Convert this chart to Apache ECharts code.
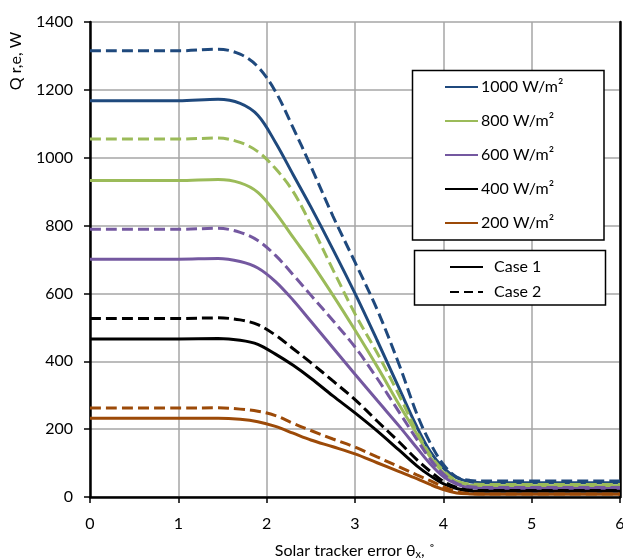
<!DOCTYPE html>
<html>
<head>
<meta charset="utf-8">
<script src="https://cdn.jsdelivr.net/npm/echarts@6/dist/echarts.min.js"></script>
<style>html,body{margin:0;padding:0;background:#fff}#c{width:623px;height:560px}</style>
</head>
<body>
<div id="c"></div>
<script>
const xs = [0, 1, 1.45, 1.7, 1.9, 2.1, 2.3, 2.5, 2.75, 3, 3.25, 3.5, 3.7, 3.85, 4, 4.15, 4.3, 4.5, 6];
const c1_1000 = [1168,1168,1172,1160,1125,1045,950,855,730,600,462,320,207,135,86,57,45,42,42];
const c2_1000 = [1315,1315,1320,1305,1268,1195,1088,975,828,692,553,390,245,160,96,59,49,47,47];
const c1_800 = [933,933,936,926,898,838,765,693,595,492,385,272,186,118,72,46,35,33,33];
const c2_800 = [1055,1055,1058,1045,1018,968,900,803,670,540,425,300,192,125,78,48,38,37,37];
const c1_600 = [701,701,703,694,675,635,580,518,440,362,285,209,145,98,60,38,27,25,25];
const c2_600 = [789,789,792,780,756,712,655,595,520,442,350,250,170,112,68,40,30,28,28];
const c1_400 = [466,466,467,462,450,421,388,350,298,248,195,138,92,63,39,25,18,17,17];
const c2_400 = [526,526,528,522,508,477,437,396,342,287,224,162,110,76,46,28,20,19,19];
const c1_200 = [232,232,232,229,222,208,188,168,148,127,101,75,54,37,22,12,9,8,8];
const c2_200 = [262,262,263,259,253,240,217,196,171,147,118,89,65,48,30,16,10,9,9];
const yTicks = ['0','200','400','600','800','1000','1200','1400'];
const irrNames = ['1000 W/m²','800 W/m²','600 W/m²','400 W/m²','200 W/m²'];
const caseNames = ['Case 1','Case 2'];
const colors = ['#1F497D','#9BBB59','#7458A0','#000000','#9C4A08'];
const case1 = [c1_1000,c1_800,c1_600,c1_400,c1_200];
const case2 = [c2_1000,c2_800,c2_600,c2_400,c2_200];

const FONT = 'Lato';
const pairs = arr => xs.map((x,i)=>[x,arr[i]]);
const series = [];
case1.forEach((arr,i)=>{
  series.push({name: irrNames[i], type:'line', data: pairs(arr), smooth:0.35, symbol:'none', showSymbol:false,
    lineStyle:{color:colors[i], width:3, type:'solid'}, itemStyle:{color:colors[i]}, z:2});
});
case2.forEach((arr,i)=>{
  series.push({name: irrNames[i]+' (Case 2)', type:'line', data: pairs(arr), smooth:0.35, symbol:'none', showSymbol:false,
    lineStyle:{color:colors[i], width:3, type:[11,5]}, itemStyle:{color:colors[i]}, z:2});
});
series.push({name:'Case 1', type:'line', data:[], symbol:'none', lineStyle:{color:'#000', width:3, type:'solid'}, itemStyle:{color:'#000'}});
series.push({name:'Case 2', type:'line', data:[], symbol:'none', lineStyle:{color:'#000', width:3, type:[9,5]}, itemStyle:{color:'#000'}});

const chart = echarts.init(document.getElementById('c'), null, {renderer:'canvas'});
chart.setOption({
  animation:false,
  backgroundColor:'#fff',
  grid:{left:90, right:3, top:22, bottom:63, containLabel:false, outerBoundsMode:'none'},
  xAxis:{type:'value', min:0, max:6, interval:1,
    name:'Solar tracker error θ{sub|x}, ˚', nameLocation:'middle', nameGap:44,
    nameTextStyle:{fontFamily:FONT, fontSize:16, color:'#000', rich:{sub:{fontFamily:FONT, fontSize:11, color:'#000', verticalAlign:'bottom', padding:[8,0,0,0]}}},
    axisLine:{show:true, onZero:false, lineStyle:{color:'#000', width:2.5}},
    axisTick:{show:true, length:6, lineStyle:{color:'#000', width:1.5}},
    axisLabel:{fontFamily:FONT, fontSize:16, color:'#000', margin:19},
    splitLine:{show:true, lineStyle:{color:'#A6A6A6', width:1.5}}
  },
  yAxis:[{type:'value', min:0, max:1400, interval:200,
    name:'Q r,e, W', nameLocation:'middle', nameRotate:90, nameGap:66,
    nameTextStyle:{fontFamily:FONT, fontSize:16, color:'#000', padding:[0,0,0,397]},
    axisLine:{show:true, lineStyle:{color:'#000', width:2.5}},
    axisTick:{show:true, length:6, lineStyle:{color:'#000', width:1.5}},
    axisLabel:{fontFamily:FONT, fontSize:16, color:'#000', margin:17,
      formatter: v => yTicks[Math.round(v/200)] || String(v)},
    splitLine:{show:true, lineStyle:{color:'#A6A6A6', width:1.5}}
  },{type:'value', min:0, max:1400, interval:200, position:'right',
    axisLine:{show:true, lineStyle:{color:'#000', width:2.5}},
    axisTick:{show:false}, axisLabel:{show:false}, splitLine:{show:false}
  }],
  legend:[{
    data: irrNames, orient:'vertical', left:444, top:79, itemWidth:33, itemHeight:16, itemGap:18,
    padding:0, selectedMode:false, z:20, itemStyle:{opacity:0, borderWidth:0},
    textStyle:{fontFamily:FONT, fontSize:16, color:'#000', padding:[0,0,0,-2]}
  },{
    data: caseNames, orient:'vertical', left:449, top:259, itemWidth:33, itemHeight:16, itemGap:9,
    padding:0, selectedMode:false, z:20, itemStyle:{opacity:0, borderWidth:0},
    textStyle:{fontFamily:FONT, fontSize:16, color:'#000', padding:[0,0,0,6]}
  }],
  graphic:[
    {type:'rect', shape:{x:412.5, y:70.5, width:191.5, height:169.5}, style:{fill:'#fff', stroke:'#000', lineWidth:1.5}, z:5},
    {type:'rect', shape:{x:414.5, y:250.5, width:191, height:54.5}, style:{fill:'#fff', stroke:'#000', lineWidth:1.5}, z:5}
  ],
  series: series
});
</script>
</body>
</html>
